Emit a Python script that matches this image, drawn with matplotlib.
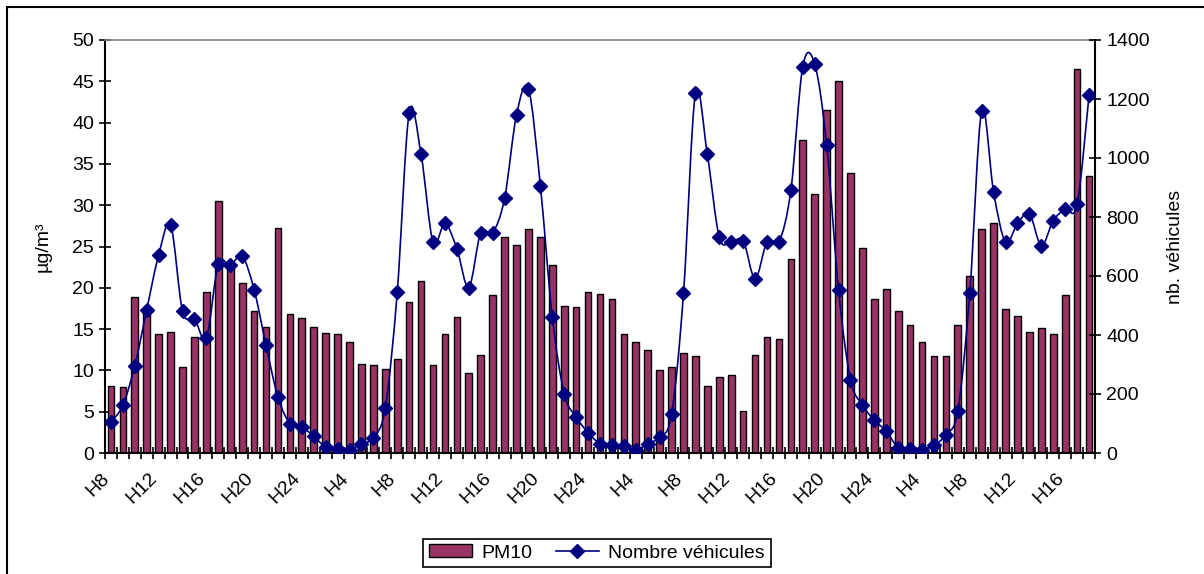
import numpy as np
import matplotlib
matplotlib.use("Agg")
import matplotlib.pyplot as plt
from matplotlib.path import Path
from matplotlib.patches import PathPatch, Rectangle
from matplotlib.lines import Line2D
from matplotlib.transforms import ScaledTranslation

plt.rcParams["font.family"] = ["Liberation Sans", "DejaVu Sans"]

# hourly categories, starting at H8, 83 hours
hours = [f"H{(8 + i - 1) % 24 + 1}" for i in range(83)]

pm10 = [
    8.1, 8.0, 18.9, 17.5, 14.4, 14.7, 10.4, 14.0, 19.5, 30.5,
    22.5, 20.6, 17.2, 15.3, 27.3, 16.8, 16.3, 15.3, 14.5, 14.4,
    13.4, 10.8, 10.6, 10.2, 11.35, 18.3, 20.8, 10.6, 14.4, 16.5,
    9.65, 11.9, 19.1, 26.1, 25.2, 27.1, 26.1, 22.7, 17.8, 17.65,
    19.5, 19.3, 18.7, 14.4, 13.4, 12.5, 10.0, 10.4, 12.1, 11.7,
    8.1, 9.25, 9.45, 5.1, 11.9, 14.0, 13.8, 23.5, 37.9, 31.4,
    41.5, 45.0, 33.9, 24.8, 18.6, 19.9, 17.2, 15.5, 13.45, 11.7,
    11.7, 15.5, 21.4, 27.1, 27.9, 17.4, 16.6, 14.7, 15.1, 14.4,
    19.1, 46.5, 33.5,
]

vehicules = [
    105, 162, 296, 486, 671, 774, 481, 455, 391, 640,
    636, 667, 554, 365, 190, 100, 88, 57, 20, 15,
    11, 32, 52, 153, 545, 1153, 1012, 715, 778, 693,
    561, 747, 747, 863, 1146, 1235, 906, 461, 201, 122,
    69, 32, 26, 23, 9, 32, 54, 131, 541, 1219,
    1012, 732, 715, 720, 591, 715, 715, 890, 1310, 1319,
    1045, 552, 249, 163, 111, 74, 18, 15, 9, 26,
    62, 144, 541, 1161, 884, 715, 778, 811, 703, 788,
    827, 843, 1213,
]

bar_color = "#993366"
line_color = "#000080"

fig = plt.figure(figsize=(12.04, 5.74), dpi=100)
ax = fig.add_axes([105 / 1204, 1 - 453 / 574, 990 / 1204, 413 / 574])
x = np.arange(len(hours))

ax.bar(x, pm10, width=0.56, color=bar_color, edgecolor="black", linewidth=1.0,
       label="PM10", zorder=2)
ax.set_xlim(-0.5, len(hours) - 0.5)
ax.set_ylim(0, 50)
ax.set_yticks(np.arange(0, 51, 5))

# x ticks: marks between categories, labels every 4 hours
ax.set_xticks(np.arange(-0.5, len(hours), 1.0), minor=True)
ax.set_xticks(x[::4])
ax.set_xticklabels(hours[::4], rotation=45, ha="right", va="top",
                   rotation_mode="anchor")
ax.tick_params(axis="x", which="major", length=0, pad=12, labelsize=14)
ax.tick_params(axis="x", which="minor", direction="inout", length=9, width=1.2)
ax.tick_params(axis="y", direction="inout", length=8, width=1.2, labelsize=14, pad=4)
shift = ScaledTranslation(-10 / 100, 0, fig.dpi_scale_trans)
for lab in ax.get_xticklabels():
    lab.set_transform(lab.get_transform() + shift)

for side in ["left", "bottom"]:
    ax.spines[side].set_linewidth(1.5)
ax.spines["top"].set_color("#808080")
ax.spines["top"].set_linewidth(1.2)
ax.spines["right"].set_visible(False)

# second axis: number of vehicles, smoothed line like Excel
ax2 = ax.twinx()
ax2.set_ylim(0, 1400)
ax2.set_yticks(np.arange(0, 1401, 200))
ax2.tick_params(axis="y", direction="inout", length=8, width=1.2, labelsize=14, pad=4)
ax2.spines["right"].set_linewidth(1.5)
ax2.spines["top"].set_visible(False)
ax2.spines["left"].set_visible(False)
ax2.spines["bottom"].set_visible(False)

pts = np.column_stack([x, vehicules]).astype(float)
verts = [pts[0]]
codes = [Path.MOVETO]
n = len(pts)
for i in range(n - 1):
    p0 = pts[i - 1] if i > 0 else pts[i]
    p1 = pts[i]
    p2 = pts[i + 1]
    p3 = pts[i + 2] if i + 2 < n else pts[i + 1]
    verts += [p1 + (p2 - p0) / 6, p2 - (p3 - p1) / 6, p2]
    codes += [Path.CURVE4] * 3
ax2.add_patch(PathPatch(Path(verts, codes), facecolor="none",
                        edgecolor=line_color, linewidth=1.2, zorder=3))
ax2.plot(x, vehicules, linestyle="none", marker="D", markersize=7.5,
         color=line_color, zorder=4)

fig.text(43 / 1204, 1 - 247 / 574, "µg/m³", rotation=90, ha="center",
         va="center", fontsize=14)
fig.text(1176 / 1204, 1 - 247 / 574, "nb. véhicules", rotation=90, ha="center",
         va="center", fontsize=14)

handles = [
    Rectangle((0, 0), 1, 1, facecolor=bar_color, edgecolor="black", linewidth=1.0),
    Line2D([], [], color=line_color, linewidth=1.2, marker="D", markersize=7.5),
]
leg = fig.legend(handles, ["PM10", "Nombre véhicules"], loc="center",
                 bbox_to_anchor=(597 / 1204, 1 - 553 / 574), ncol=2,
                 fontsize=14, frameon=True, fancybox=False, framealpha=1,
                 edgecolor="black", handlelength=2.2, handleheight=0.6,
                 columnspacing=1.2, borderpad=0.3, handletextpad=0.5)
leg.get_frame().set_linewidth(1.2)

# chart area border (left and top edges visible)
fig.add_artist(Rectangle((7 / 1204, -0.1), 1.2, 1.1 - 7 / 574,
                         transform=fig.transFigure, fill=False,
                         edgecolor="black", linewidth=1.5))

fig.savefig("out.png", dpi=100)
